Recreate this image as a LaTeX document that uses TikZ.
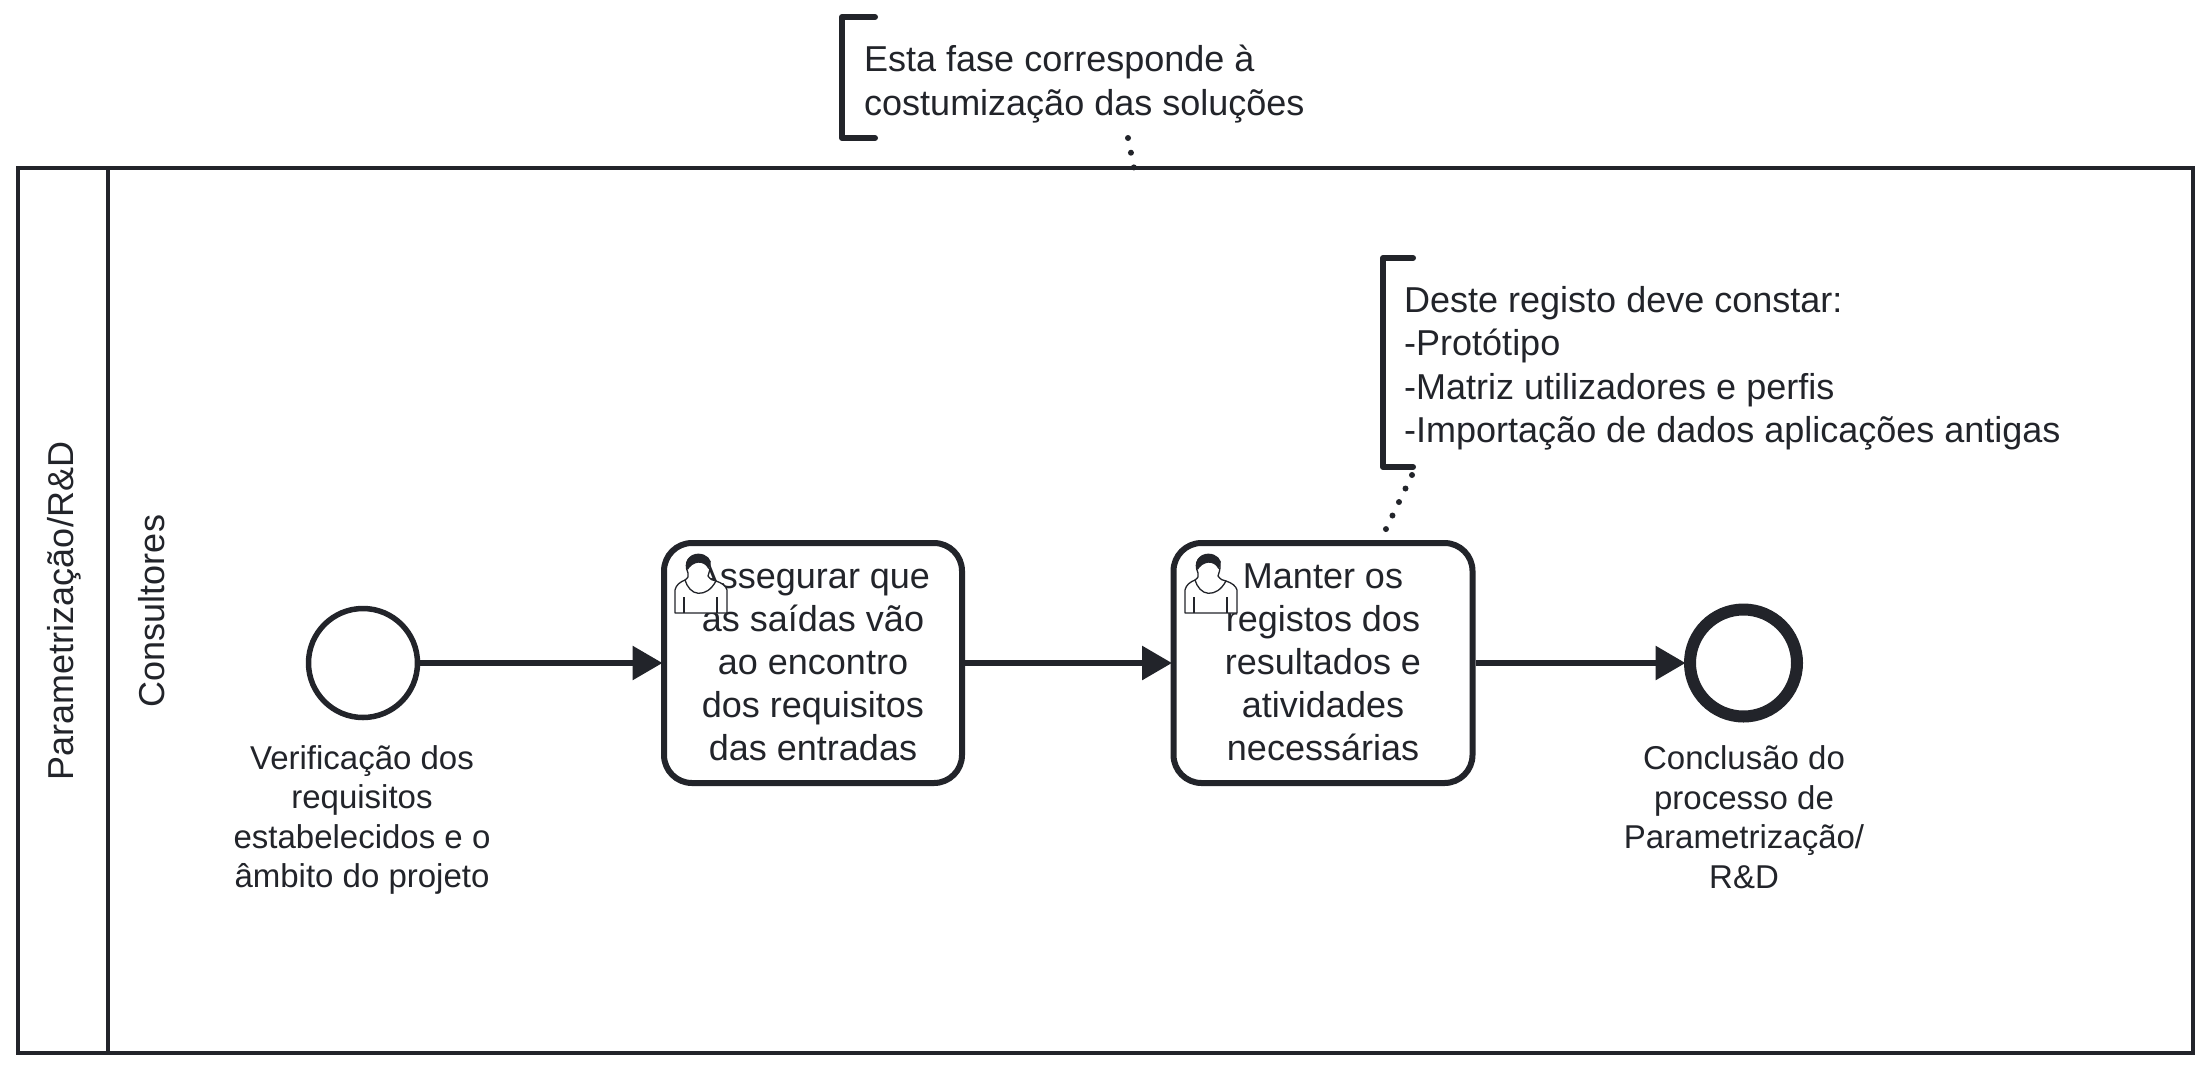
\documentclass[tikz,border=0pt]{standalone}
\usepackage{fontspec}
\setmainfont{Liberation Sans}
\usetikzlibrary{arrows.meta}
\definecolor{ink}{HTML}{22242A}
\newcommand{\usericon}[2]{%
\begin{scope}[shift={(#1,#2)},ink,line width=1.3pt,x=1pt,y=-1pt,line join=round]
\draw[fill=white] (0,59) -- (0,36) .. controls (1,31) and (5,28) .. (10,26) -- (41,27) .. controls (47,29) and (51,32) .. (52,36) -- (52,59) -- cycle;
\draw[fill=white] (10,26) .. controls (13,24) and (14,22) .. (13,19) .. controls (8,8) and (15,0.3) .. (23.3,0.3) .. controls (31,0.3) and (37,6) .. (35,12) .. controls (35,16) and (34,19) .. (33,22) .. controls (35,25) and (38,27) .. (41,27) .. controls (36,36) and (30,39.5) .. (23.3,39.3) .. controls (17,39) and (12,33) .. (10,26) -- cycle;
\fill (12.7,16) .. controls (8,7) and (15,0.3) .. (23.3,0.3) .. controls (31,0.3) and (37,6) .. (35,12) -- (33.5,15) .. controls (31,10) and (27,8.5) .. (23.3,8.7) .. controls (19,9) and (15,12) .. (12.7,16) -- cycle;
\draw (9,43) -- (9,59) (42,43) -- (42,59);
\end{scope}}
\tikzset{
  lane/.style={draw=ink,line width=4pt,fill=none},
  task/.style={draw=ink,line width=6pt,fill=white,rounded corners=28pt},
  flow/.style={draw=ink,line width=6pt,shorten >=-1.5pt,-{Triangle[length=30pt,width=33pt]}},
  note/.style={draw=ink,line width=6pt,line cap=round,line join=round},
  assoc/.style={draw=ink,line width=6pt,line cap=round,dash pattern=on 0pt off 15pt},
  txt/.style={text=ink,font=\fontsize{36}{43}\selectfont,align=center,inner sep=0pt},
  lbl/.style={text=ink,font=\fontsize{33}{39.5}\selectfont,align=center,inner sep=0pt},
  notetxt/.style={text=ink,font=\fontsize{36}{43.5}\selectfont,align=left,anchor=north west,inner sep=0pt},
}
\begin{document}
\begin{tikzpicture}[x=1pt,y=-1pt]
\useasboundingbox (0,0) rectangle (2211,1071);
\fill[white] (0,0) rectangle (2211,1071);
% pool
\draw[lane] (18,168) rectangle (2193,1053);
\draw[lane] (108,168) -- (108,1053);
\node[txt,rotate=90] (pool) at (64,611) {Parametrização/R\&D};
\node[txt,rotate=90] (laneL) at (152,611) {Consultores};
\coordinate (poolTop) at (1134,168);
% events
\node[circle,draw=ink,line width=5.5pt,fill=white,minimum size=109pt,inner sep=0pt] (start) at (363,663) {};
\node[circle,draw=ink,line width=12pt,fill=white,minimum size=107pt,inner sep=0pt] (end) at (1743.5,663) {};
\node[lbl] (startL) at (362,820) {Verificação dos\\requisitos\\estabelecidos e o\\âmbito do projeto};
\node[lbl] (endL) at (1744,817) {Conclusão do\\processo de\\Parametrização/\\R\&D};
% tasks
\node[task,minimum width=298pt,minimum height=240pt,inner sep=0pt] (t1) at (813,663) {};
\node[task,minimum width=299pt,minimum height=240pt,inner sep=0pt] (t2) at (1323,663) {};
\node[txt] (t1t) at (813,662) {Assegurar que\\as saídas vão\\ao encontro\\dos requisitos\\das entradas};
\node[txt] (t2t) at (1323,662) {Manter os\\registos dos\\resultados e\\atividades\\necessárias};
\usericon{675}{554}
\usericon{1185}{554}
% flows
\draw[flow] (start) -- (t1);
\draw[flow] (t1) -- (t2);
\draw[flow] (t2) -- (end);
% annotations
\draw[note] (875,17) -- (842,17) -- (842,138) -- (875,138);
\node[notetxt] (n1) at (864,45) {Esta fase corresponde à\\costumização das soluções};
\draw[note] (1413,258) -- (1383,258) -- (1383,467) -- (1413,467);
\node[notetxt] (n2) at (1404,286) {Deste registo deve constar:\\-Protótipo\\-Matriz utilizadores e perfis\\-Importação de dados aplicações antigas};
\coordinate (a1) at (1128,138);
\coordinate (a2a) at (1412,475);
\coordinate (a2b) at (1385.5,530);
\draw[assoc] (a1) -- (poolTop);
\draw[assoc] (a2a) -- (a2b);
\end{tikzpicture}
\end{document}
